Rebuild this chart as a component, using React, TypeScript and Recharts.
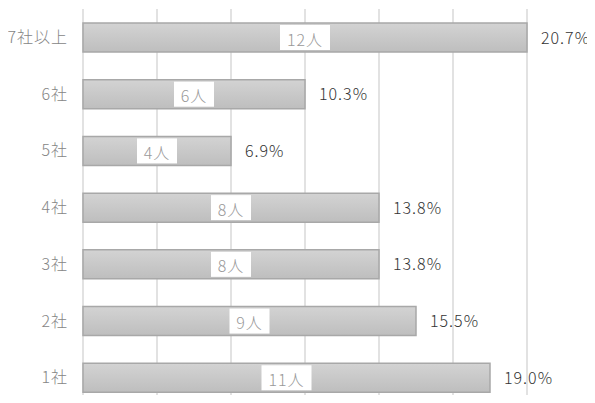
import React from "react";
import { BarChart, Bar, XAxis, YAxis, CartesianGrid, LabelList } from "recharts";

const categories = ["7社以上", "6社", "5社", "4社", "3社", "2社", "1社"];
const counts = [12, 6, 4, 8, 8, 9, 11];
const percents = ["20.7%", "10.3%", "6.9%", "13.8%", "13.8%", "15.5%", "19.0%"];
const xTicks = [0, 2, 4, 6, 8, 10, 12];

const data = categories.map((name, i) => ({
  name,
  count: counts[i],
  countLabel: `${counts[i]}人`,
  pct: percents[i],
}));

const FONT = '"Noto Sans CJK JP", "Noto Sans", sans-serif';

const InnerLabel = (props: any) => {
  const { x, y, width, height, value } = props;
  const text = String(value);
  const w = text.length > 2 ? 50 : 40;
  const cx = x + width / 2;
  return (
    <g>
      <rect x={cx - w / 2} y={y + 2} width={w} height={height - 4} fill="#ffffff" />
      <text
        x={cx}
        y={y + height / 2 + 1}
        textAnchor="middle"
        dominantBaseline="central"
        fill="#999999"
        fontSize={16}
        fontWeight={300}
        letterSpacing={1}
        fontFamily={FONT}
      >
        {text}
      </text>
    </g>
  );
};

const PctLabel = (props: any) => {
  const { x, y, width, height, value } = props;
  return (
    <text
      x={x + width + 14}
      y={y + height / 2 - 1}
      textAnchor="start"
      dominantBaseline="central"
      fill="#333333"
      fontSize={16}
      fontWeight={300}
      letterSpacing={1}
      fontFamily={FONT}
    >
      {value}
    </text>
  );
};

export default function App() {
  return (
    <div style={{ margin: -8, width: 595, height: 403, overflow: "hidden", background: "#fff" }}>
      <BarChart
        width={595}
        height={415}
        data={data}
        layout="vertical"
        margin={{ top: 9, right: 68, bottom: 9, left: 0 }}
        barSize={29}
      >
        <defs>
          <linearGradient id="barGrad" x1="0" y1="0" x2="0" y2="1">
            <stop offset="0%" stopColor="#d3d3d3" />
            <stop offset="100%" stopColor="#bebebe" />
          </linearGradient>
        </defs>
        <CartesianGrid horizontal={false} vertical={true} stroke="#d9d9d9" strokeWidth={1.5} />
        <XAxis type="number" domain={[0, 12]} ticks={xTicks} hide />
        <YAxis
          type="category"
          dataKey="name"
          width={83}
          axisLine={false}
          tickLine={false}
          tickMargin={9}
          tick={{
            fill: "#858585",
            fontSize: 16,
            fontWeight: 300,
            letterSpacing: 1,
            fontFamily: FONT,
          }}
        />
        <Bar
          dataKey="count"
          fill="url(#barGrad)"
          stroke="#a8a8a8"
          strokeWidth={1.5}
          isAnimationActive={false}
        >
          <LabelList dataKey="countLabel" content={InnerLabel} />
          <LabelList dataKey="pct" content={PctLabel} />
        </Bar>
      </BarChart>
    </div>
  );
}
